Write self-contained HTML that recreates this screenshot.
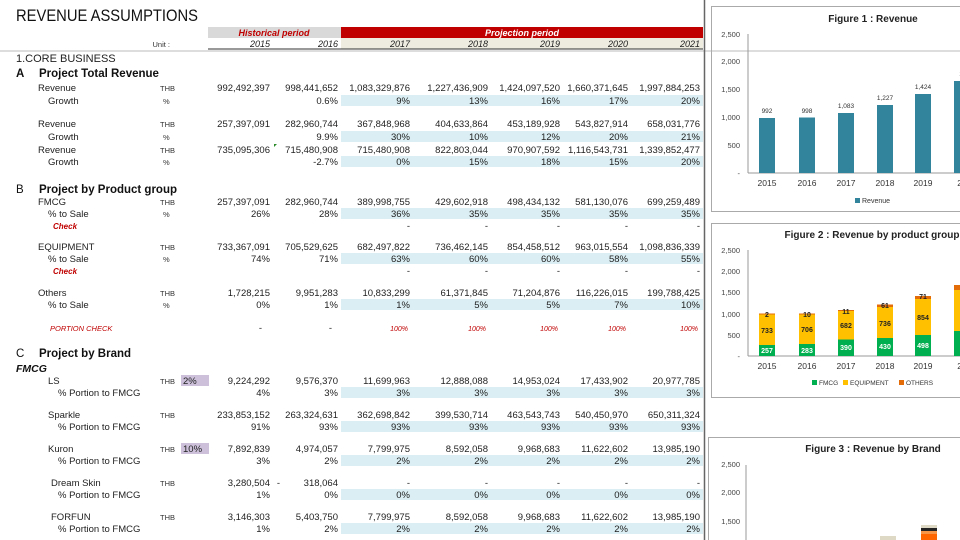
<!DOCTYPE html>
<html><head><meta charset="utf-8"><style>
html,body{margin:0;padding:0;background:#fff;width:960px;height:540px;overflow:hidden}
svg{display:block;font-family:"Liberation Sans",sans-serif}
.n{font-size:9.5px;fill:#222;text-anchor:end}
.l{font-size:9.5px;fill:#222}
.u{font-size:7.5px;fill:#333}
.h{font-size:11.5px;font-weight:bold;fill:#111}
.ck{font-size:8px;font-style:italic;font-weight:bold;fill:#c00000}
.ax{font-size:7.5px;fill:#444;text-anchor:end}
.yr{font-size:8.5px;fill:#333;text-anchor:middle}
.bl{font-size:8.5px;font-weight:bold;fill:#222;text-anchor:middle}
</style></head><body>
<svg width="960" height="540" viewBox="0 0 960 540">
<text x="16" y="21" style="font-size:17px;fill:#111" textLength="182" lengthAdjust="spacingAndGlyphs">REVENUE ASSUMPTIONS</text>
<rect x="208" y="27" width="133" height="11" fill="#d9d9d9"/>
<rect x="341" y="27" width="362" height="11" fill="#c00000"/>
<rect x="341" y="38" width="362" height="11" fill="#eeece1"/>
<text x="274" y="36" style="font-size:9px;font-weight:bold;font-style:italic;fill:#c00000;text-anchor:middle">Historical period</text>
<text x="522" y="36" style="font-size:9px;font-weight:bold;font-style:italic;fill:#fff;text-anchor:middle">Projection period</text>
<line x1="208" y1="49" x2="703" y2="49" stroke="#333" stroke-width="1"/>
<line x1="0" y1="51" x2="960" y2="51" stroke="#bbb" stroke-width="1"/>
<text x="170" y="47" class="u" text-anchor="end">Unit :</text>
<g style="font-size:9px;font-style:italic;fill:#222;text-anchor:end">
<text x="270" y="47">2015</text><text x="338" y="47">2016</text><text x="410" y="47">2017</text><text x="488" y="47">2018</text><text x="560" y="47">2019</text><text x="628" y="47">2020</text><text x="700" y="47">2021</text></g>
<text x="16" y="62" style="font-size:11px;fill:#222">1.CORE BUSINESS</text>
<text x="16" y="77" class="h">A</text><text x="39" y="77" class="h">Project Total Revenue</text>
<g fill="#daeef3">
<rect x="341" y="95" width="362" height="11"/><rect x="341" y="131" width="362" height="11"/><rect x="341" y="156" width="362" height="11"/>
<rect x="341" y="208" width="362" height="11"/><rect x="341" y="253" width="362" height="11"/><rect x="341" y="299" width="362" height="11"/>
<rect x="341" y="387" width="362" height="11"/><rect x="341" y="421" width="362" height="11"/><rect x="341" y="455" width="362" height="11"/><rect x="341" y="489" width="362" height="11"/><rect x="341" y="523" width="362" height="11"/>
</g>
<g fill="#ccc0da"><rect x="181" y="375" width="28" height="11"/><rect x="181" y="443" width="28" height="11"/></g>
<g class="l">
<text x="38" y="91">Revenue</text><text x="48" y="104">Growth</text>
<text x="38" y="127">Revenue</text><text x="48" y="140">Growth</text>
<text x="38" y="153">Revenue</text><text x="48" y="165">Growth</text>
<text x="38" y="205">FMCG</text><text x="48" y="217">% to Sale</text>
<text x="38" y="250">EQUIPMENT</text><text x="48" y="262">% to Sale</text>
<text x="38" y="296">Others</text><text x="48" y="308">% to Sale</text>
<text x="48" y="384">LS</text><text x="58" y="396">% Portion  to FMCG</text>
<text x="48" y="418">Sparkle</text><text x="58" y="430">% Portion  to FMCG</text>
<text x="48" y="452">Kuron</text><text x="58" y="464">% Portion  to FMCG</text>
<text x="51" y="486">Dream Skin</text><text x="58" y="498">% Portion  to FMCG</text>
<text x="51" y="520">FORFUN</text><text x="58" y="532">% Portion  to FMCG</text>
</g>
<g class="u">
<text x="160" y="91">THB</text><text x="163" y="104">%</text>
<text x="160" y="127">THB</text><text x="163" y="140">%</text>
<text x="160" y="153">THB</text><text x="163" y="165">%</text>
<text x="160" y="205">THB</text><text x="163" y="217">%</text>
<text x="160" y="250">THB</text><text x="163" y="262">%</text>
<text x="160" y="296">THB</text><text x="163" y="308">%</text>
<text x="160" y="384">THB</text><text x="160" y="418">THB</text><text x="160" y="452">THB</text><text x="160" y="486">THB</text><text x="160" y="520">THB</text>
</g>
<text x="183" y="384" class="l">2%</text><text x="183" y="452" class="l">10%</text>
<text x="53" y="229" class="ck">Check</text><text x="53" y="274" class="ck">Check</text>
<text x="50" y="331" style="font-size:7.5px;font-style:italic;fill:#c00000">PORTION CHECK</text>
<text x="16" y="193" class="h" style="font-weight:normal">B</text><text x="39" y="193" class="h">Project by Product group</text>
<text x="16" y="357" class="h" style="font-weight:normal">C</text><text x="39" y="357" class="h">Project by Brand</text>
<text x="16" y="372" style="font-size:10.5px;font-weight:bold;font-style:italic;fill:#111">FMCG</text>
<g class="n">
<text x="270" y="91">992,492,397</text><text x="338" y="91">998,441,652</text><text x="410" y="91">1,083,329,876</text><text x="488" y="91">1,227,436,909</text><text x="560" y="91">1,424,097,520</text><text x="628" y="91">1,660,371,645</text><text x="700" y="91">1,997,884,253</text>
<text x="338" y="104">0.6%</text><text x="410" y="104">9%</text><text x="488" y="104">13%</text><text x="560" y="104">16%</text><text x="628" y="104">17%</text><text x="700" y="104">20%</text>
<text x="270" y="127">257,397,091</text><text x="338" y="127">282,960,744</text><text x="410" y="127">367,848,968</text><text x="488" y="127">404,633,864</text><text x="560" y="127">453,189,928</text><text x="628" y="127">543,827,914</text><text x="700" y="127">658,031,776</text>
<text x="338" y="140">9.9%</text><text x="410" y="140">30%</text><text x="488" y="140">10%</text><text x="560" y="140">12%</text><text x="628" y="140">20%</text><text x="700" y="140">21%</text>
<text x="270" y="153">735,095,306</text><text x="338" y="153">715,480,908</text><text x="410" y="153">715,480,908</text><text x="488" y="153">822,803,044</text><text x="560" y="153">970,907,592</text><text x="628" y="153">1,116,543,731</text><text x="700" y="153">1,339,852,477</text>
<text x="338" y="165">-2.7%</text><text x="410" y="165">0%</text><text x="488" y="165">15%</text><text x="560" y="165">18%</text><text x="628" y="165">15%</text><text x="700" y="165">20%</text>
<text x="270" y="205">257,397,091</text><text x="338" y="205">282,960,744</text><text x="410" y="205">389,998,755</text><text x="488" y="205">429,602,918</text><text x="560" y="205">498,434,132</text><text x="628" y="205">581,130,076</text><text x="700" y="205">699,259,489</text>
<text x="270" y="217">26%</text><text x="338" y="217">28%</text><text x="410" y="217">36%</text><text x="488" y="217">35%</text><text x="560" y="217">35%</text><text x="628" y="217">35%</text><text x="700" y="217">35%</text>
<text x="410" y="229">-</text><text x="488" y="229">-</text><text x="560" y="229">-</text><text x="628" y="229">-</text><text x="700" y="229">-</text>
<text x="270" y="250">733,367,091</text><text x="338" y="250">705,529,625</text><text x="410" y="250">682,497,822</text><text x="488" y="250">736,462,145</text><text x="560" y="250">854,458,512</text><text x="628" y="250">963,015,554</text><text x="700" y="250">1,098,836,339</text>
<text x="270" y="262">74%</text><text x="338" y="262">71%</text><text x="410" y="262">63%</text><text x="488" y="262">60%</text><text x="560" y="262">60%</text><text x="628" y="262">58%</text><text x="700" y="262">55%</text>
<text x="410" y="274">-</text><text x="488" y="274">-</text><text x="560" y="274">-</text><text x="628" y="274">-</text><text x="700" y="274">-</text>
<text x="270" y="296">1,728,215</text><text x="338" y="296">9,951,283</text><text x="410" y="296">10,833,299</text><text x="488" y="296">61,371,845</text><text x="560" y="296">71,204,876</text><text x="628" y="296">116,226,015</text><text x="700" y="296">199,788,425</text>
<text x="270" y="308">0%</text><text x="338" y="308">1%</text><text x="410" y="308">1%</text><text x="488" y="308">5%</text><text x="560" y="308">5%</text><text x="628" y="308">7%</text><text x="700" y="308">10%</text>
<text x="262" y="331">-</text><text x="332" y="331">-</text>
<text x="270" y="384">9,224,292</text><text x="338" y="384">9,576,370</text><text x="410" y="384">11,699,963</text><text x="488" y="384">12,888,088</text><text x="560" y="384">14,953,024</text><text x="628" y="384">17,433,902</text><text x="700" y="384">20,977,785</text>
<text x="270" y="396">4%</text><text x="338" y="396">3%</text><text x="410" y="396">3%</text><text x="488" y="396">3%</text><text x="560" y="396">3%</text><text x="628" y="396">3%</text><text x="700" y="396">3%</text>
<text x="270" y="418">233,853,152</text><text x="338" y="418">263,324,631</text><text x="410" y="418">362,698,842</text><text x="488" y="418">399,530,714</text><text x="560" y="418">463,543,743</text><text x="628" y="418">540,450,970</text><text x="700" y="418">650,311,324</text>
<text x="270" y="430">91%</text><text x="338" y="430">93%</text><text x="410" y="430">93%</text><text x="488" y="430">93%</text><text x="560" y="430">93%</text><text x="628" y="430">93%</text><text x="700" y="430">93%</text>
<text x="270" y="452">7,892,839</text><text x="338" y="452">4,974,057</text><text x="410" y="452">7,799,975</text><text x="488" y="452">8,592,058</text><text x="560" y="452">9,968,683</text><text x="628" y="452">11,622,602</text><text x="700" y="452">13,985,190</text>
<text x="270" y="464">3%</text><text x="338" y="464">2%</text><text x="410" y="464">2%</text><text x="488" y="464">2%</text><text x="560" y="464">2%</text><text x="628" y="464">2%</text><text x="700" y="464">2%</text>
<text x="270" y="486">3,280,504</text><text x="280" y="486">-</text><text x="338" y="486">318,064</text><text x="410" y="486">-</text><text x="488" y="486">-</text><text x="560" y="486">-</text><text x="628" y="486">-</text><text x="700" y="486">-</text>
<text x="270" y="498">1%</text><text x="338" y="498">0%</text><text x="410" y="498">0%</text><text x="488" y="498">0%</text><text x="560" y="498">0%</text><text x="628" y="498">0%</text><text x="700" y="498">0%</text>
<text x="270" y="520">3,146,303</text><text x="338" y="520">5,403,750</text><text x="410" y="520">7,799,975</text><text x="488" y="520">8,592,058</text><text x="560" y="520">9,968,683</text><text x="628" y="520">11,622,602</text><text x="700" y="520">13,985,190</text>
<text x="270" y="532">1%</text><text x="338" y="532">2%</text><text x="410" y="532">2%</text><text x="488" y="532">2%</text><text x="560" y="532">2%</text><text x="628" y="532">2%</text><text x="700" y="532">2%</text>
</g>
<g style="font-size:7px;font-style:italic;fill:#c00000;text-anchor:end">
<text x="408" y="331">100%</text><text x="486" y="331">100%</text><text x="558" y="331">100%</text><text x="626" y="331">100%</text><text x="698" y="331">100%</text></g>
<path d="M274 144 l3 0 l-3 3z" fill="#2a8a2a"/>
<line x1="704.5" y1="0" x2="704.5" y2="540" stroke="#666" stroke-width="1.5"/>
<rect x="711.5" y="6.5" width="260" height="205" fill="none" stroke="#aaa"/>
<text x="873" y="22" style="font-size:10px;font-weight:bold;fill:#222;text-anchor:middle">Figure 1 : Revenue</text>
<g class="ax"><text x="740" y="37">2,500</text><text x="740" y="64">2,000</text><text x="740" y="92">1,500</text><text x="740" y="120">1,000</text><text x="740" y="148">500</text><text x="740" y="176">-</text></g>
<line x1="748" y1="34" x2="748" y2="173" stroke="#999"/><line x1="748" y1="173" x2="960" y2="173" stroke="#999"/>
<g fill="#31849b">
<rect x="759" y="118" width="16" height="55"/><rect x="799" y="117.5" width="16" height="55.5"/><rect x="838" y="113" width="16" height="60"/><rect x="877" y="105" width="16" height="68"/><rect x="915" y="94" width="16" height="79"/><rect x="954" y="81" width="16" height="92"/></g>
<g style="font-size:6.5px;fill:#333;text-anchor:middle"><text x="767" y="113">992</text><text x="807" y="113">998</text><text x="846" y="108">1,083</text><text x="885" y="100">1,227</text><text x="923" y="89">1,424</text><text x="962" y="76">1,</text></g>
<g class="yr"><text x="767" y="186">2015</text><text x="807" y="186">2016</text><text x="846" y="186">2017</text><text x="885" y="186">2018</text><text x="923" y="186">2019</text><text x="962" y="186">20</text></g>
<rect x="855" y="198" width="5" height="5" fill="#31849b"/><text x="862" y="203" style="font-size:7px;fill:#333">Revenue</text>
<rect x="711.5" y="223.5" width="260" height="174" fill="none" stroke="#aaa"/>
<text x="872" y="238" style="font-size:10px;font-weight:bold;fill:#222;text-anchor:middle">Figure 2 : Revenue by product group</text>
<g class="ax"><text x="740" y="253">2,500</text><text x="740" y="274">2,000</text><text x="740" y="295">1,500</text><text x="740" y="317">1,000</text><text x="740" y="338">500</text><text x="740" y="359">-</text></g>
<line x1="748" y1="250" x2="748" y2="356" stroke="#999"/><line x1="748" y1="356" x2="960" y2="356" stroke="#999"/>
<g fill="#00b050"><rect x="759" y="345" width="16" height="11"/><rect x="799" y="344" width="16" height="12"/><rect x="838" y="339.5" width="16" height="16.5"/><rect x="877" y="338" width="16" height="18"/><rect x="915" y="335" width="16" height="21"/><rect x="954" y="331" width="16" height="25"/></g>
<g fill="#ffc000"><rect x="759" y="314" width="16" height="31"/><rect x="799" y="314" width="16" height="30"/><rect x="838" y="310.5" width="16" height="29"/><rect x="877" y="307" width="16" height="31"/><rect x="915" y="299" width="16" height="36"/><rect x="954" y="290" width="16" height="41"/></g>
<g fill="#e36c09"><rect x="759" y="313.5" width="16" height="1"/><rect x="799" y="313.5" width="16" height="1"/><rect x="838" y="310" width="16" height="1"/><rect x="877" y="304.5" width="16" height="2.5"/><rect x="915" y="296" width="16" height="3"/><rect x="954" y="285" width="16" height="5"/></g>
<g style="font-size:7px;font-weight:bold;fill:#fff;text-anchor:middle"><text x="767" y="353">257</text><text x="807" y="353">283</text><text x="846" y="350">390</text><text x="885" y="349">430</text><text x="923" y="348">498</text></g>
<g class="bl" style="font-size:7px"><text x="767" y="333">733</text><text x="807" y="332">706</text><text x="846" y="328">682</text><text x="885" y="326">736</text><text x="923" y="320">854</text>
<text x="767" y="317">2</text><text x="807" y="317">10</text><text x="846" y="314">11</text><text x="885" y="308">61</text><text x="923" y="299">71</text></g>
<g class="yr"><text x="767" y="369">2015</text><text x="807" y="369">2016</text><text x="846" y="369">2017</text><text x="885" y="369">2018</text><text x="923" y="369">2019</text><text x="962" y="369">20</text></g>
<g style="font-size:6.5px;fill:#333"><rect x="812" y="380" width="5" height="5" fill="#00b050"/><text x="819" y="385">FMCG</text><rect x="843" y="380" width="5" height="5" fill="#ffc000"/><text x="850" y="385">EQUIPMENT</text><rect x="899" y="380" width="5" height="5" fill="#e36c09"/><text x="906" y="385">OTHERS</text></g>
<rect x="708.5" y="437.5" width="260" height="110" fill="none" stroke="#aaa"/>
<text x="873" y="452" style="font-size:10px;font-weight:bold;fill:#222;text-anchor:middle">Figure 3 : Revenue by Brand</text>
<g class="ax"><text x="740" y="467">2,500</text><text x="740" y="495">2,000</text><text x="740" y="524">1,500</text></g>
<line x1="746" y1="465" x2="746" y2="540" stroke="#999"/>
<rect x="880" y="536" width="16" height="4" fill="#ddd9c4"/>
<rect x="921" y="525" width="16" height="3" fill="#ddd9c4"/><rect x="921" y="528" width="16" height="3" fill="#222"/><rect x="921" y="531" width="16" height="3" fill="#f79646"/><rect x="921" y="534" width="16" height="6" fill="#ff6600"/>
</svg>
</body></html>
